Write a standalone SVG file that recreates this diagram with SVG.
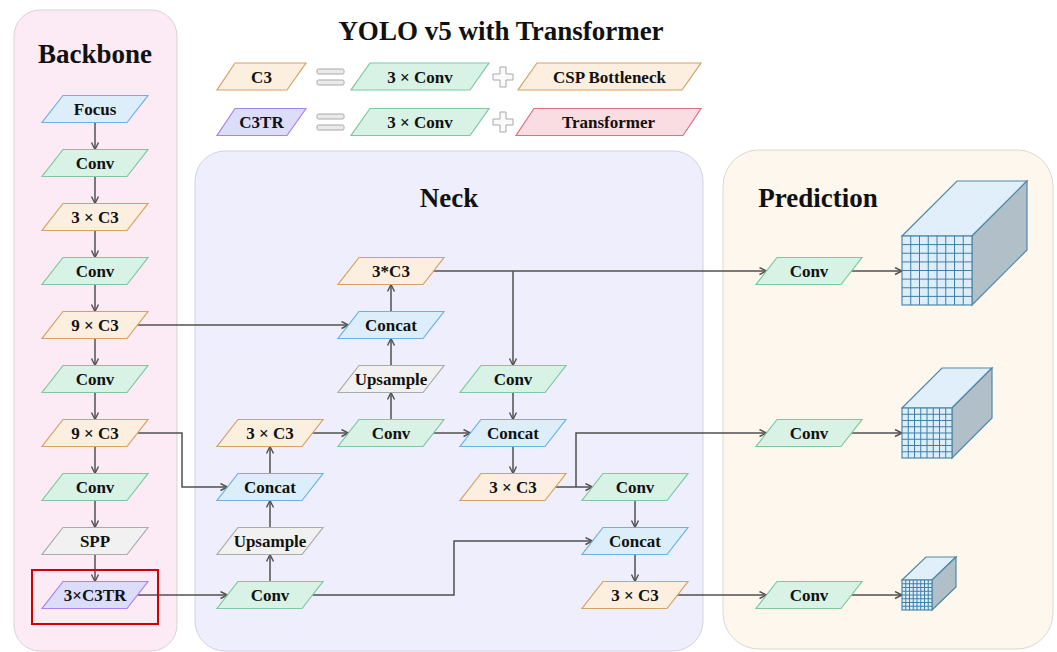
<svg xmlns="http://www.w3.org/2000/svg" xmlns:xlink="http://www.w3.org/1999/xlink" width="1057" height="652" viewBox="0 0 1057 652">
<style>
.t{font-family:"Liberation Serif","Times New Roman",serif;font-weight:bold;fill:#111;text-anchor:middle}
.lbl{font-size:17px}
.big{font-size:27px}
.org{fill:#fdefdf;stroke:#d2a266;stroke-width:1.2}
.grn{fill:#d9f2e6;stroke:#7fc7a0;stroke-width:1.2}
.blu{fill:#dbeefa;stroke:#6db1e0;stroke-width:1.2}
.gry{fill:#f1f1f1;stroke:#ababab;stroke-width:1.2}
.pur{fill:#dcdcfb;stroke:#a884ef;stroke-width:1.2}
.pnk{fill:#fadde2;stroke:#de7080;stroke-width:1.2}
.edge{fill:none;stroke:#505050;stroke-width:1.5;marker-end:url(#arr)}
.cf{fill:#ddeefa;stroke:#4f87a8;stroke-width:1.2}
.ct{fill:#e0effa;stroke:#4f87a8;stroke-width:1.2}
.cr{fill:#b1bfc8;stroke:#4f87a8;stroke-width:1.2}
.grid{fill:none;stroke:#3d7fa6;stroke-width:1}
.sym{fill:#eaeaea;stroke:#a8a8a8;stroke-width:1}
</style>
<defs>
<path id="pg" d="M-32,-13.5 H53 L32,13.5 H-53 Z"/>
<marker id="arr" markerWidth="10" markerHeight="10" refX="8" refY="4" orient="auto" markerUnits="userSpaceOnUse">
<path d="M1,0.5 L8,4 L1,7.5" fill="none" stroke="#505050" stroke-width="1.4"/>
</marker>
</defs>

<g id="panels">
<rect x="14" y="10" width="163" height="641" rx="26" fill="#fcebf5" stroke="#d9d2d9"/>
<rect x="195" y="151" width="508" height="500" rx="30" fill="#efeefc" stroke="#d3d2de"/>
<rect x="723" y="150" width="330" height="499" rx="36" fill="#fef7ee" stroke="#dcd8d2"/>
</g>

<g id="titles">
<text class="t big" x="501" y="40">YOLO v5 with Transformer</text>
<text class="t big" x="95" y="63">Backbone</text>
<text class="t big" x="449" y="207">Neck</text>
<text class="t big" x="818" y="207">Prediction</text>
</g>

<g id="legend">
<polygon class="org" points="235,63 306,63 287,90 217,90"/>
<text class="t lbl" x="261.5" y="82.5">C3</text>
<rect class="sym" x="317" y="69" width="27" height="5" rx="1.5"/>
<rect class="sym" x="317" y="80" width="27" height="5" rx="1.5"/>
<polygon class="grn" points="370,63 489,63 470,90 351,90"/>
<text class="t lbl" x="420" y="82.5">3 × Conv</text>
<polygon class="sym" fill="#fff" points="500,67 506,67 506,74 513,74 513,80 506,80 506,87 500,87 500,80 493,80 493,74 500,74" style="fill:#fafafa"/>
<polygon class="org" points="537,63 701,63 682,90 518,90"/>
<text class="t lbl" x="609.5" y="82.5">CSP Bottleneck</text>

<polygon class="pur" points="235,108.5 306,108.5 287,135.5 217,135.5"/>
<text class="t lbl" x="261.5" y="128">C3TR</text>
<rect class="sym" x="317" y="114" width="27" height="5" rx="1.5"/>
<rect class="sym" x="317" y="125" width="27" height="5" rx="1.5"/>
<polygon class="grn" points="370,108.5 489,108.5 470,135.5 351,135.5"/>
<text class="t lbl" x="420" y="128">3 × Conv</text>
<polygon class="sym" points="500,112 506,112 506,119 513,119 513,125 506,125 506,132 500,132 500,125 493,125 493,119 500,119" style="fill:#fafafa"/>
<polygon class="pnk" points="534,108.5 701,108.5 683,135.5 516,135.5"/>
<text class="t lbl" x="608.5" y="128">Transformer</text>
</g>

<g id="connectors">
<path class="edge" d="M95,122.5 V149.5"/>
<path class="edge" d="M95,176.5 V203.5"/>
<path class="edge" d="M95,230.5 V257.5"/>
<path class="edge" d="M95,284.5 V311.5"/>
<path class="edge" d="M95,338.5 V365.5"/>
<path class="edge" d="M95,392.5 V419.5"/>
<path class="edge" d="M95,446.5 V473.5"/>
<path class="edge" d="M95,500.5 V527.5"/>
<path class="edge" d="M95,554.5 V581.5"/>
<path class="edge" d="M137.5,325 H348.5"/>
<path class="edge" d="M137.5,433 H182 V487 H227.5"/>
<path class="edge" d="M137.5,595 H227.5"/>
<path class="edge" d="M270,581.5 V554.5"/>
<path class="edge" d="M270,527.5 V500.5"/>
<path class="edge" d="M270,473.5 V446.5"/>
<path class="edge" d="M312.5,433 H348.5"/>
<path class="edge" d="M391,419.5 V392.5"/>
<path class="edge" d="M391,365.5 V338.5"/>
<path class="edge" d="M391,311.5 V284.5"/>
<path class="edge" d="M433.5,433 H470.5"/>
<path class="edge" d="M433.5,271 H766.5"/>
<path class="edge" d="M513,271 V365.5"/>
<path class="edge" d="M513,392.5 V419.5"/>
<path class="edge" d="M513,446.5 V473.5"/>
<path class="edge" d="M555.5,487 H592.5"/>
<path class="edge" d="M576,487 V433 H766.5"/>
<path class="edge" d="M635,500.5 V527.5"/>
<path class="edge" d="M312.5,595 H454 V541 H592.5"/>
<path class="edge" d="M635,554.5 V581.5"/>
<path class="edge" d="M677.5,595 H766.5"/>
<path class="edge" d="M851.5,271 H902"/>
<path class="edge" d="M851.5,433 H902"/>
<path class="edge" d="M851.5,595 H902"/>
</g>

<g id="bb-focus"><use href="#pg" x="95" y="109" class="blu"/><text class="t lbl" x="95" y="115">Focus</text></g>
<g id="bb-conv1"><use href="#pg" x="95" y="163" class="grn"/><text class="t lbl" x="95" y="169">Conv</text></g>
<g id="bb-c3a"><use href="#pg" x="95" y="217" class="org"/><text class="t lbl" x="95" y="223">3 × C3</text></g>
<g id="bb-conv2"><use href="#pg" x="95" y="271" class="grn"/><text class="t lbl" x="95" y="277">Conv</text></g>
<g id="bb-c3b"><use href="#pg" x="95" y="325" class="org"/><text class="t lbl" x="95" y="331">9 × C3</text></g>
<g id="bb-conv3"><use href="#pg" x="95" y="379" class="grn"/><text class="t lbl" x="95" y="385">Conv</text></g>
<g id="bb-c3c"><use href="#pg" x="95" y="433" class="org"/><text class="t lbl" x="95" y="439">9 × C3</text></g>
<g id="bb-conv4"><use href="#pg" x="95" y="487" class="grn"/><text class="t lbl" x="95" y="493">Conv</text></g>
<g id="bb-spp"><use href="#pg" x="95" y="541" class="gry"/><text class="t lbl" x="95" y="547">SPP</text></g>
<g id="bb-c3tr"><use href="#pg" x="95" y="595" class="pur"/><text class="t lbl" x="95" y="601">3×C3TR</text>
<rect x="32" y="570" width="126" height="54" fill="none" stroke="#d40000" stroke-width="2"/></g>

<g id="nk-c3top"><use href="#pg" x="391" y="271" class="org"/><text class="t lbl" x="391" y="277">3*C3</text></g>
<g id="nk-concat1"><use href="#pg" x="391" y="325" class="blu"/><text class="t lbl" x="391" y="331">Concat</text></g>
<g id="nk-up1"><use href="#pg" x="391" y="379" class="gry"/><text class="t lbl" x="391" y="385">Upsample</text></g>
<g id="nk-conv1"><use href="#pg" x="391" y="433" class="grn"/><text class="t lbl" x="391" y="439">Conv</text></g>
<g id="nk-c3l"><use href="#pg" x="270" y="433" class="org"/><text class="t lbl" x="270" y="439">3 × C3</text></g>
<g id="nk-concat2"><use href="#pg" x="270" y="487" class="blu"/><text class="t lbl" x="270" y="493">Concat</text></g>
<g id="nk-up2"><use href="#pg" x="270" y="541" class="gry"/><text class="t lbl" x="270" y="547">Upsample</text></g>
<g id="nk-conv2"><use href="#pg" x="270" y="595" class="grn"/><text class="t lbl" x="270" y="601">Conv</text></g>
<g id="nk-conv3"><use href="#pg" x="513" y="379" class="grn"/><text class="t lbl" x="513" y="385">Conv</text></g>
<g id="nk-concat3"><use href="#pg" x="513" y="433" class="blu"/><text class="t lbl" x="513" y="439">Concat</text></g>
<g id="nk-c3m"><use href="#pg" x="513" y="487" class="org"/><text class="t lbl" x="513" y="493">3 × C3</text></g>
<g id="nk-conv4"><use href="#pg" x="635" y="487" class="grn"/><text class="t lbl" x="635" y="493">Conv</text></g>
<g id="nk-concat4"><use href="#pg" x="635" y="541" class="blu"/><text class="t lbl" x="635" y="547">Concat</text></g>
<g id="nk-c3r"><use href="#pg" x="635" y="595" class="org"/><text class="t lbl" x="635" y="601">3 × C3</text></g>

<g id="pr-conv1"><use href="#pg" x="809" y="271" class="grn"/><text class="t lbl" x="809" y="277">Conv</text></g>
<g id="pr-conv2"><use href="#pg" x="809" y="433" class="grn"/><text class="t lbl" x="809" y="439">Conv</text></g>
<g id="pr-conv3"><use href="#pg" x="809" y="595" class="grn"/><text class="t lbl" x="809" y="601">Conv</text></g>

<g id="cube1">
<polygon class="ct" points="902,236 972,236 1027,181 957,181"/>
<polygon class="cr" points="972,236 1027,181 1027,250 972,305"/>
<rect class="cf" x="902" y="236" width="70" height="69"/>
<path class="grid" d="M910.75,236V305M919.5,236V305M928.25,236V305M937,236V305M945.75,236V305M954.5,236V305M963.25,236V305M902,244.6H972M902,253.25H972M902,261.9H972M902,270.5H972M902,279.1H972M902,287.75H972M902,296.4H972"/>
</g>
<g id="cube2">
<polygon class="ct" points="902,408 952,408 992,368 942,368"/>
<polygon class="cr" points="952,408 992,368 992,418 952,458"/>
<rect class="cf" x="902" y="408" width="50" height="50"/>
<path class="grid" d="M908.25,408V458M914.5,408V458M920.75,408V458M927,408V458M933.25,408V458M939.5,408V458M945.75,408V458M902,414.25H952M902,420.5H952M902,426.75H952M902,433H952M902,439.25H952M902,445.5H952M902,451.75H952"/>
</g>
<g id="cube3">
<polygon class="ct" points="902,580 932,580 956,557 926,557"/>
<polygon class="cr" points="932,580 956,557 956,587 932,610"/>
<rect class="cf" x="902" y="580" width="30" height="30"/>
<path class="grid" d="M905.75,580V610M909.5,580V610M913.25,580V610M917,580V610M920.75,580V610M924.5,580V610M928.25,580V610M902,583.75H932M902,587.5H932M902,591.25H932M902,595H932M902,598.75H932M902,602.5H932M902,606.25H932"/>
</g>
</svg>
